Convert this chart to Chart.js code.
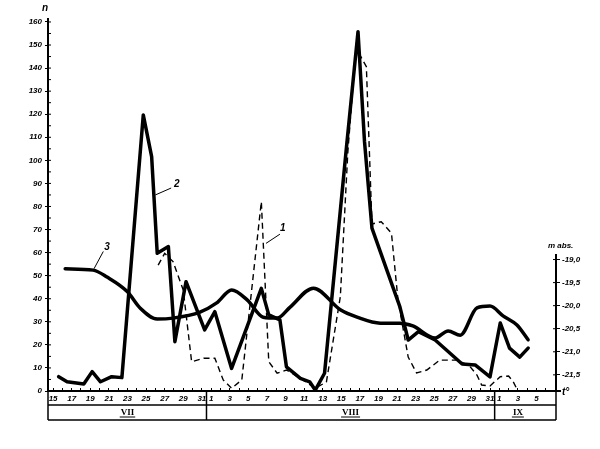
<!DOCTYPE html>
<html><head><meta charset="utf-8">
<script src="https://cdn.jsdelivr.net/npm/chart.js@4.4.1/dist/chart.umd.min.js"></script>
<style>html,body{margin:0;padding:0;background:#fff}canvas{display:block}</style>
</head><body>
<canvas id="c" width="600" height="449"></canvas>
<script>
// x = days counted from 15 July (0); Aug 1 = 17; Sep 1 = 48
const s1Days   = [11.3, 12.0, 12.9, 14.0, 14.9, 16.2, 17.4, 18.3, 19.2, 20.3, 22.4, 23.2, 24.1, 25.1, 26.6, 28.2, 29.4, 30.9, 31.7, 32.5, 33.0, 33.7, 34.3, 35.3, 36.4, 37.1, 38.2, 39.1, 40.2, 41.6, 43.4, 44.7, 45.6, 46.1, 47.0, 48.1, 49.0, 49.5, 50.0, 51.1];
const s1Values = [54.6, 59.7, 56.1, 43.8, 12.7, 14.2, 14.2, 4.8, 1.2, 4.8, 82.1, 12.7, 7.7, 9.1, 5.5, 1.2, 3.9, 40.9, 103.2, 145, 145.7, 140.6, 72.4, 73.4, 68.4, 39.5, 14.7, 7.8, 9.1, 13.4, 13.4, 11.3, 6.9, 2.6, 2.2, 6.2, 6.5, 4.0, 0, 0];

const s2Days   = [0.6, 1.5, 3.3, 4.2, 5.1, 6.3, 7.4, 9.7, 10.6, 11.2, 12.4, 13.1, 14.3, 16.3, 17.4, 19.2, 22.4, 23.2, 24.4, 25.1, 26.6, 27.6, 28.2, 29.2, 31.6, 32.8, 33.5, 34.3, 37.3, 38.2, 39.3, 41.1, 44.0, 45.4, 47.0, 48.1, 49.1, 50.2, 51.1];
const s2Values = [6.2, 4.0, 3.0, 8.4, 4.0, 6.2, 5.8, 119.7, 101.6, 59.7, 62.6, 21.4, 47.4, 26.5, 34.4, 9.8, 44.5, 33, 30.8, 10.5, 5.5, 4.0, 0.4, 7.7, 107.4, 155.8, 108.1, 70.6, 36.6, 22.1, 25.7, 22.1, 11.7, 11.3, 6.1, 29.5, 18.6, 14.7, 18.6];

const s3Days  = [1.3, 4.3, 5.8, 8.0, 9.35, 11.2, 12.9, 15.8, 17.6, 19.2, 20.9, 22.6, 24.1, 25.5, 28.0, 30.9, 32.7, 35.2, 37.3, 38.7, 41.1, 42.5, 43.8, 45.6, 47.0, 48.4, 49.9, 51.1];
const s3Temps = [-19.20, -19.23, -19.38, -19.70, -20.05, -20.29, -20.27, -20.14, -19.94, -19.66, -19.88, -20.25, -20.27, -20.03, -19.62, -20.09, -20.25, -20.38, -20.38, -20.44, -20.70, -20.55, -20.64, -20.05, -20.01, -20.22, -20.42, -20.74];

const xTickDays = Array.from({length: 55}, (_, i) => i);
const xLabelDays = [0,2,4,6,8,10,12,14,16,17,19,21,23,25,27,29,31,33,35,37,39,41,43,45,47,48,50,52];
const xLabels = ['15','17','19','21','23','25','27','29','31','1','3','5','7','9','11','13','15','17','19','21','23','25','27','29','31','1','3','5'];
const months = ['VII','VIII','IX'];
const monthLabelDays = [8, 32, 50];
const monthBoundaryDays = [16.5, 47.5];
const leftTicks = Array.from({length: 33}, (_, i) => i * 5);
const rightTicks = [-21.5, -21.0, -20.5, -20.0, -19.5, -19.0];
const seriesNames = ['1', '2', '3'];

const numFont = {family: 'Liberation Sans', size: 8, weight: 'bold', style: 'italic'};

const decor = {
  id: 'decor',
  afterDraw(chart) {
    const ctx = chart.ctx, xs = chart.scales.x, ys = chart.scales.y, y2 = chart.scales.y2;
    const A = chart.chartArea, L = A.left, R = A.right, B = A.bottom;
    const line = (a, b, c, d) => { ctx.beginPath(); ctx.moveTo(a, b); ctx.lineTo(c, d); ctx.stroke(); };
    ctx.save();
    ctx.strokeStyle = '#000'; ctx.fillStyle = '#000';
    ctx.lineWidth = 1;
    leftTicks.forEach(v => { const p = ys.getPixelForValue(v); line(L, p, L + 3, p); });
    rightTicks.forEach(v => { const p = y2.getPixelForValue(v); line(R - 3, p, R, p); });
    ctx.lineWidth = 2;
    line(R, y2.getPixelForValue(-18.88), R, B);
    line(R, B, R + 5, B);
    // bottom box
    const rowY = B + 14, boxB = B + 29;
    ctx.lineWidth = 1.5;
    line(L, B, L, boxB); line(R, B, R, boxB);
    line(L, rowY, R, rowY); line(L, boxB, R, boxB);
    monthBoundaryDays.forEach(d => { const p = xs.getPixelForValue(d); line(p, B, p, boxB); });
    ctx.font = 'bold 9px "Liberation Serif"';
    ctx.textAlign = 'center'; ctx.textBaseline = 'middle';
    months.forEach((m, i) => {
      const p = xs.getPixelForValue(monthLabelDays[i]);
      ctx.fillText(m, p, rowY + 7.5);
      const w = ctx.measureText(m).width;
      ctx.lineWidth = 1;
      line(p - w / 2 - 1, rowY + 12, p + w / 2 + 1, rowY + 12);
    });
    // series labels with leaders
    ctx.font = 'bold italic 10px "Liberation Sans"';
    ctx.lineWidth = 1;
    const lab = (t, tx, tv, ax, av, bx, bv) => {
      ctx.fillText(t, xs.getPixelForValue(tx), ys.getPixelForValue(tv));
      line(xs.getPixelForValue(ax), ys.getPixelForValue(av), xs.getPixelForValue(bx), ys.getPixelForValue(bv));
    };
    lab(seriesNames[0], 24.7, 70.5, 24.4, 68.0, 22.9, 64.0);
    lab(seriesNames[1], 13.3, 89.5, 12.7, 88.0, 11.0, 85.0);
    lab(seriesNames[2], 5.8, 62.5, 5.4, 60.5, 4.4, 53.0);
    // axis titles
    ctx.font = 'bold italic 10px "Liberation Sans"';
    ctx.fillText('n', L - 3, ys.getPixelForValue(166));
    ctx.font = 'bold italic 8px "Liberation Sans"';
    ctx.textAlign = 'left';
    ctx.fillText('m abs.', R - 8, y2.getPixelForValue(-18.7));
    ctx.font = 'bold italic 10px "Liberation Sans"';
    ctx.fillText('t°', R + 6, B + 1);
    ctx.restore();
  }
};

new Chart(document.getElementById('c'), {
  type: 'line',
  data: {
    datasets: [
      {label: seriesNames[0], data: s1Days.map((d, i) => ({x: d, y: s1Values[i]})), yAxisID: 'y',
       borderColor: '#000', borderWidth: 1.4, borderDash: [6, 4], pointRadius: 0, tension: 0, fill: false},
      {label: seriesNames[1], data: s2Days.map((d, i) => ({x: d, y: s2Values[i]})), yAxisID: 'y',
       borderColor: '#000', borderWidth: 3.5, pointRadius: 0, tension: 0, fill: false, borderJoinStyle: 'round', borderCapStyle: 'round'},
      {label: seriesNames[2], data: s3Days.map((d, i) => ({x: d, y: s3Temps[i]})), yAxisID: 'y2',
       borderColor: '#000', borderWidth: 3.5, pointRadius: 0, cubicInterpolationMode: 'monotone', fill: false, borderCapStyle: 'round'}
    ]
  },
  options: {
    responsive: false, animation: false, devicePixelRatio: 1,
    layout: {padding: {top: 18.5, left: 0, right: 0, bottom: 0}},
    plugins: {legend: {display: false}, tooltip: {enabled: false}},
    scales: {
      x: {
        type: 'linear', min: -0.55, max: 54.1, position: 'bottom',
        afterBuildTicks: s => { s.ticks = xTickDays.map(v => ({value: v})); },
        afterFit: s => { s.height = 58; },
        ticks: {autoSkip: false, maxRotation: 0, minRotation: 0, padding: 6, color: '#000', font: numFont,
          callback: v => { const i = xLabelDays.indexOf(v); return i >= 0 ? xLabels[i] : ''; }},
        grid: {display: true, drawOnChartArea: false, drawTicks: true, tickLength: -3, color: '#000', lineWidth: 1},
        border: {display: true, color: '#000', width: 2}
      },
      y: {
        type: 'linear', min: 0, max: 161.5, position: 'left',
        afterBuildTicks: s => { s.ticks = leftTicks.map(v => ({value: v})); },
        afterFit: s => { s.width = 48; },
        ticks: {padding: 3, color: '#000', font: numFont, callback: v => (v % 10 === 0 ? String(v) : '')},
        grid: {display: true, drawOnChartArea: false, drawTicks: true, tickLength: 3, color: '#000', lineWidth: 1},
        border: {display: true, color: '#000', width: 2}
      },
      y2: {
        type: 'linear', min: -21.85, max: -13.775, position: 'right',
        afterBuildTicks: s => { s.ticks = rightTicks.map(v => ({value: v})); },
        afterFit: s => { s.width = 44; },
        ticks: {padding: 2, color: '#000', font: numFont, callback: v => '-' + Math.abs(v).toFixed(1).replace('.', ',')},
        grid: {display: true, drawOnChartArea: false, drawTicks: true, tickLength: 4, color: '#000', lineWidth: 1},
        border: {display: false}
      }
    }
  },
  plugins: [decor]
});
</script>
</body></html>
